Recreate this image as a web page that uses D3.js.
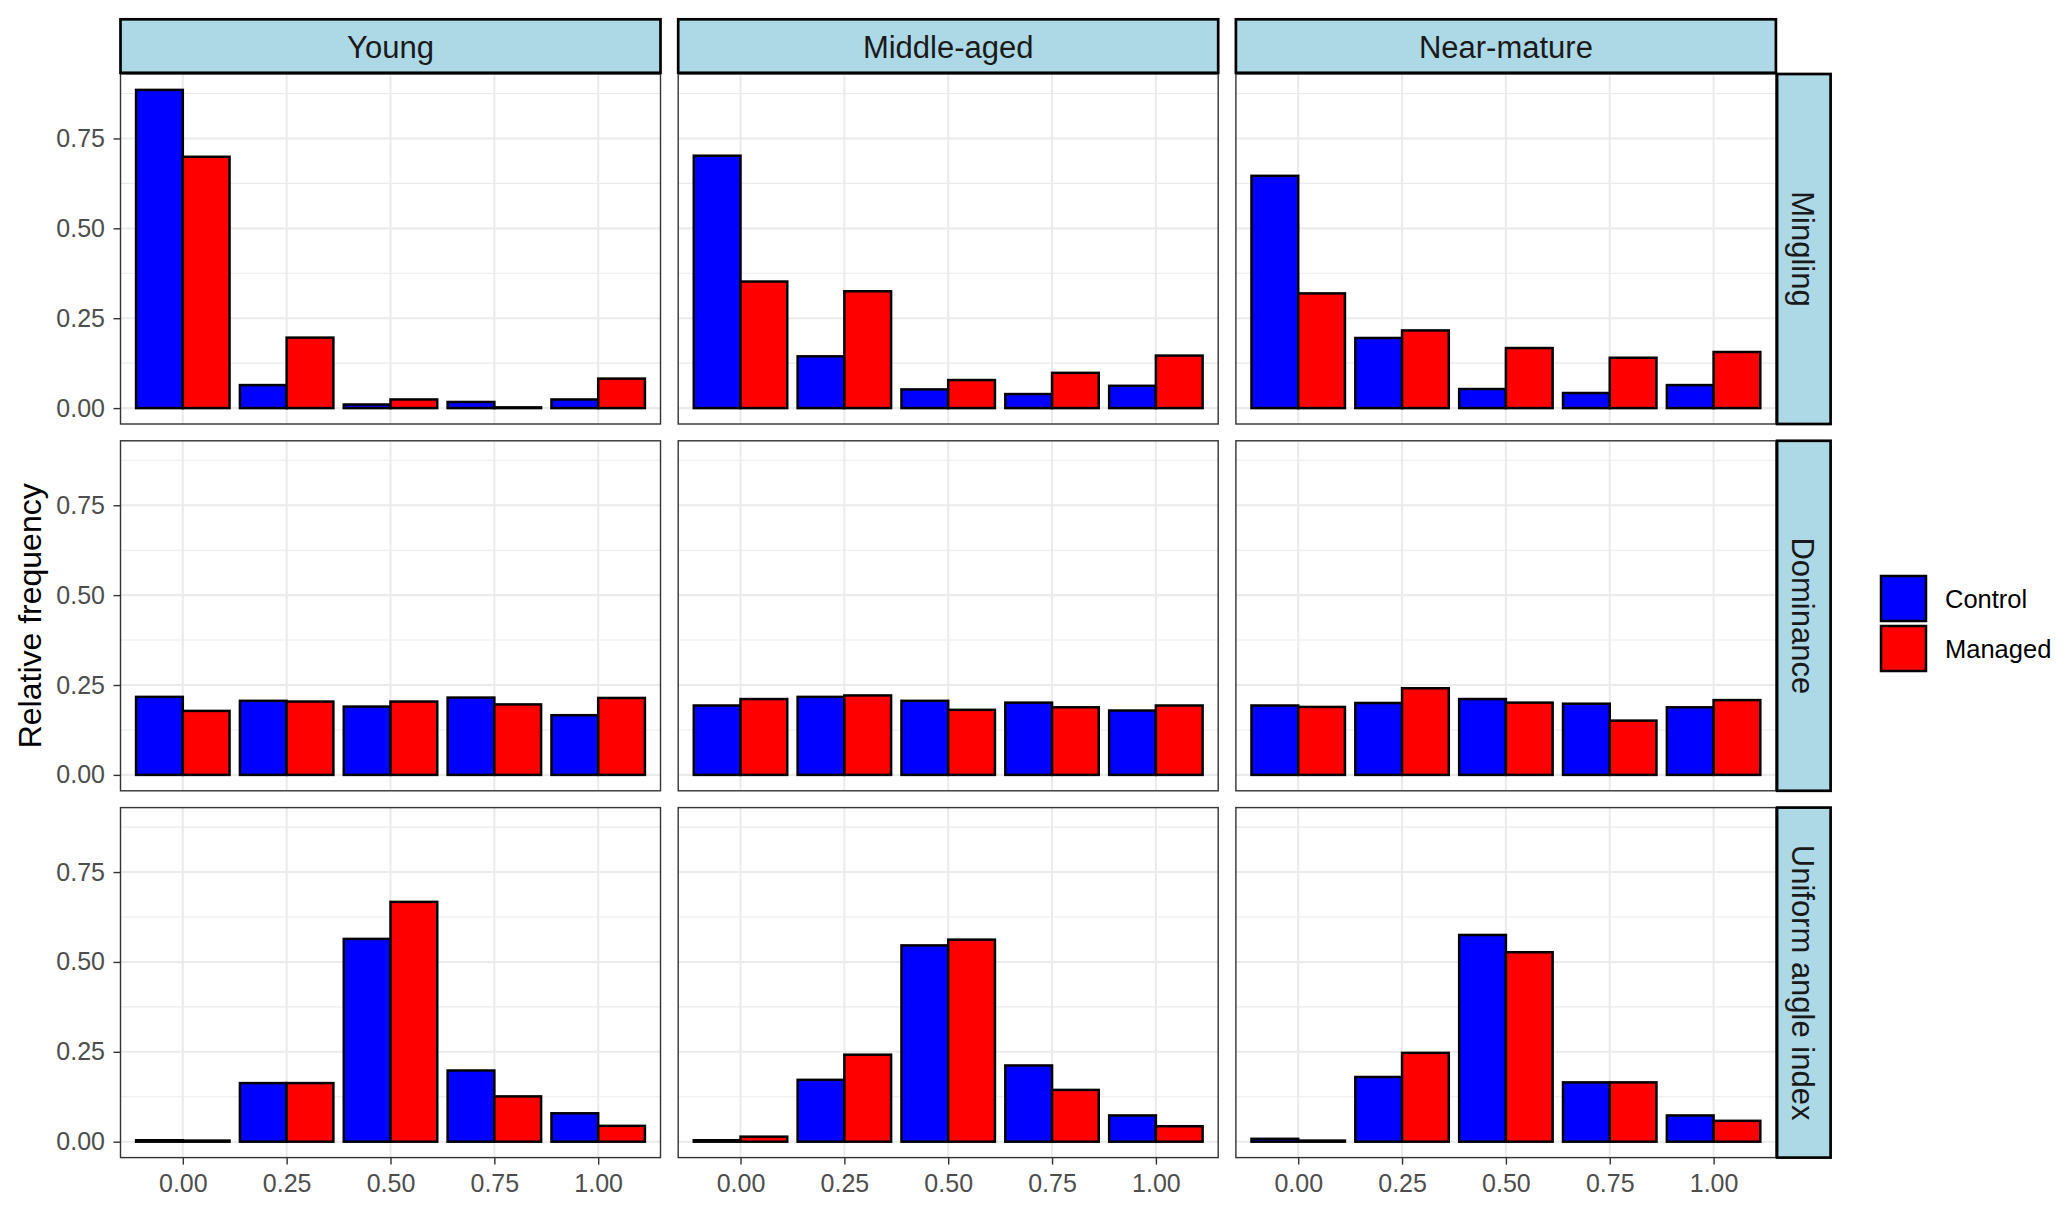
<!DOCTYPE html>
<html>
<head>
<meta charset="utf-8">
<script src="https://cdn.jsdelivr.net/npm/d3@7"></script>
<style>
  html, body { margin: 0; padding: 0; background: #ffffff; }
  svg { display: block; }
  text { font-family: "Liberation Sans", Arial, Helvetica, sans-serif; }
</style>
</head>
<body>
<svg id="chart" width="2067" height="1210"></svg>
<script>
// ---------------- data ----------------
const ages = ["Young", "Middle-aged", "Near-mature"];
const indices = ["Mingling", "Dominance", "Uniform angle index"];
const xLabels = ["0.00", "0.25", "0.50", "0.75", "1.00"];
const groups = ["Control", "Managed"];
const yTickValues = [0, 0.25, 0.5, 0.75];
const yTickLabels = ["0.00", "0.25", "0.50", "0.75"];
const yMinorValues = [0.125, 0.375, 0.625, 0.875];

// values per class (0, .25, .5, .75, 1) for Young, Middle-aged, Near-mature
const minglingControl = [
  [0.885, 0.064, 0.010, 0.017, 0.024],
  [0.702, 0.144, 0.052, 0.039, 0.062],
  [0.646, 0.195, 0.053, 0.042, 0.064]
];
const minglingManaged = [
  [0.699, 0.196, 0.024, 0.002, 0.082],
  [0.352, 0.325, 0.078, 0.098, 0.146],
  [0.319, 0.216, 0.167, 0.140, 0.156]
];
const dominanceControl = [
  [0.217, 0.206, 0.190, 0.215, 0.166],
  [0.193, 0.217, 0.206, 0.201, 0.179],
  [0.193, 0.200, 0.211, 0.198, 0.188]
];
const dominanceManaged = [
  [0.178, 0.204, 0.204, 0.196, 0.214],
  [0.211, 0.221, 0.181, 0.188, 0.193],
  [0.189, 0.241, 0.201, 0.151, 0.208]
];
const uniformControl = [
  [0.004, 0.163, 0.564, 0.198, 0.079],
  [0.004, 0.172, 0.546, 0.212, 0.073],
  [0.008, 0.180, 0.575, 0.165, 0.073]
];
const uniformManaged = [
  [0.003, 0.163, 0.667, 0.126, 0.044],
  [0.014, 0.242, 0.562, 0.144, 0.043],
  [0.003, 0.247, 0.527, 0.165, 0.058]
];
const groupColors = ["#0000FF", "#FF0000"];

// ---------------- build table ----------------
const seriesByIndex = [
  [minglingControl, minglingManaged],
  [dominanceControl, dominanceManaged],
  [uniformControl, uniformManaged]
];
const records = [];
indices.forEach((ind, r) => {
  ages.forEach((age, c) => {
    groups.forEach((g, k) => {
      seriesByIndex[r][k][c].forEach((v, i) => {
        records.push({row: r, col: c, group: k, cls: i, value: v});
      });
    });
  });
});

// ---------------- layout ----------------
const panelLeft = 120.5, panelTop = 74;
const panelW = 540, panelH = 350;
const gapX = 17.7, gapY = 16.8;
const stripH = 53.5, stripW = 53.5;
const font = '"Liberation Sans", Arial, Helvetica, sans-serif';

const svg = d3.select("#chart");

const ymax = d3.max(records, d => d.value);
const ext = 0.05 * ymax;
const y = d3.scaleLinear().domain([-ext, ymax + ext]).range([panelH, 0]);
const x = d3.scaleLinear().domain([-0.6, 4.6]).range([0, panelW]);
const barW = 0.45;

function px(c) { return panelLeft + c * (panelW + gapX); }
function py(r) { return panelTop + r * (panelH + gapY); }

for (let r = 0; r < indices.length; r++) {
  for (let c = 0; c < ages.length; c++) {
    const g = svg.append("g").attr("transform", `translate(${px(c)},${py(r)})`);
    g.append("rect").attr("x", 0).attr("y", 0).attr("width", panelW).attr("height", panelH)
      .attr("fill", "#ffffff");
    // minor grid
    g.selectAll(".ymin").data(yMinorValues).enter().append("line")
      .attr("x1", 0).attr("x2", panelW)
      .attr("y1", d => y(d)).attr("y2", d => y(d))
      .attr("stroke", "#EBEBEB").attr("stroke-width", 1.1);
    // major grid
    g.selectAll(".ymaj").data(yTickValues).enter().append("line")
      .attr("x1", 0).attr("x2", panelW)
      .attr("y1", d => y(d)).attr("y2", d => y(d))
      .attr("stroke", "#EBEBEB").attr("stroke-width", 2.1);
    g.selectAll(".xmaj").data(xLabels.map((_, i) => i)).enter().append("line")
      .attr("y1", 0).attr("y2", panelH)
      .attr("x1", d => x(d)).attr("x2", d => x(d))
      .attr("stroke", "#EBEBEB").attr("stroke-width", 2.1);
    // bars
    const data = records.filter(d => d.row === r && d.col === c);
    g.selectAll(".bar").data(data).enter().append("rect")
      .attr("x", d => x(d.cls - barW + d.group * barW))
      .attr("width", d => x(barW) - x(0))
      .attr("y", d => y(d.value))
      .attr("height", d => y(0) - y(d.value))
      .attr("fill", d => groupColors[d.group])
      .attr("stroke", "#000000")
      .attr("stroke-width", 2.5);
    // border
    g.append("rect").attr("x", 0).attr("y", 0).attr("width", panelW).attr("height", panelH)
      .attr("fill", "none").attr("stroke", "#333333").attr("stroke-width", 1.4);

    // y axis on first column
    if (c === 0) {
      const ax = d3.axisLeft(y).tickValues(yTickValues)
        .tickFormat((d, i) => yTickLabels[i]).tickSize(7).tickPadding(8.5);
      const ag = g.append("g").call(ax);
      ag.select(".domain").remove();
      ag.selectAll("line").attr("stroke", "#333333").attr("stroke-width", 1.4);
      ag.selectAll("text").attr("fill", "#4D4D4D").style("font-size", "25px")
        .style("font-family", font);
    }
    // x axis on last row
    if (r === indices.length - 1) {
      const ax = d3.axisBottom(x).tickValues(xLabels.map((_, i) => i))
        .tickFormat((d, i) => xLabels[i]).tickSize(7).tickPadding(9.5);
      const ag = g.append("g").attr("transform", `translate(0,${panelH})`).call(ax);
      ag.select(".domain").remove();
      ag.selectAll("line").attr("stroke", "#333333").attr("stroke-width", 1.4);
      ag.selectAll("text").attr("fill", "#4D4D4D").style("font-size", "25px")
        .style("font-family", font);
    }
  }
}

// top strips
ages.forEach((age, c) => {
  const sx = px(c);
  const sy = panelTop - stripH - 1.2;
  svg.append("rect").attr("x", sx).attr("y", sy).attr("width", panelW).attr("height", stripH)
    .attr("fill", "#ADD8E6").attr("stroke", "#000000").attr("stroke-width", 2.7);
  svg.append("text").attr("x", sx + panelW / 2).attr("y", sy + 38.8)
    .attr("text-anchor", "middle").attr("fill", "#1A1A1A")
    .style("font-size", "31px").text(age);
});

// right strips
indices.forEach((ind, r) => {
  const sx = px(ages.length - 1) + panelW + 1.2;
  const sy = py(r);
  svg.append("rect").attr("x", sx).attr("y", sy).attr("width", stripW).attr("height", panelH)
    .attr("fill", "#ADD8E6").attr("stroke", "#000000").attr("stroke-width", 2.7);
  svg.append("text")
    .attr("transform", `translate(${sx + 14.5},${sy + panelH / 2}) rotate(90)`)
    .attr("text-anchor", "middle").attr("fill", "#1A1A1A")
    .style("font-size", "31px").text(ind);
});

// y axis title
const plotMidY = panelTop + (3 * panelH + 2 * gapY) / 2;
svg.append("text")
  .attr("transform", `translate(40.5,${plotMidY}) rotate(-90)`)
  .attr("text-anchor", "middle").attr("fill", "#000000")
  .style("font-size", "32px").text("Relative frequency");

// legend
const legX = 1881, legY = 576, keyS = 45, keyStep = 50;
groups.forEach((gname, k) => {
  svg.append("rect").attr("x", legX).attr("y", legY + k * keyStep)
    .attr("width", keyS).attr("height", keyS)
    .attr("fill", groupColors[k]).attr("stroke", "#000000").attr("stroke-width", 2.5);
  svg.append("text").attr("x", 1945).attr("y", legY + k * keyStep + keyS / 2 + 9)
    .attr("fill", "#000000").style("font-size", "25.5px").text(gname);
});
</script>
</body>
</html>
